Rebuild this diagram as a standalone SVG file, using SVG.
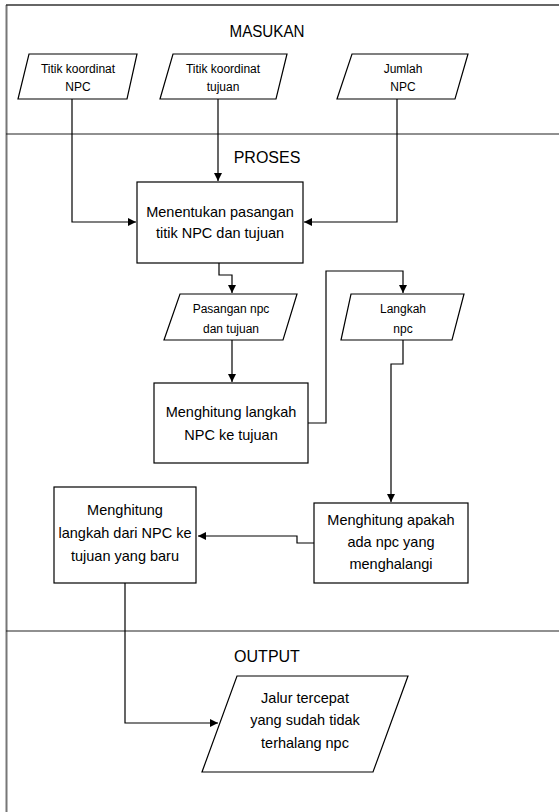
<svg xmlns="http://www.w3.org/2000/svg" width="559" height="812" viewBox="0 0 559 812">
<style>
text{font-family:"Liberation Sans","Open Sans",sans-serif;fill:#000;text-anchor:middle}
.t{font-size:12px}
.b{font-size:14.5px}
.h{font-size:16px}
.s{fill:#fff;stroke:#000;stroke-width:1.2}
.c{fill:none;stroke:#000;stroke-width:1.2;marker-end:url(#a)}
</style>
<defs>
<marker id="a" viewBox="0 0 10 10" refX="10" refY="5" markerWidth="8" markerHeight="8" markerUnits="userSpaceOnUse" orient="auto">
<path d="M0,0L10,5L0,10z" fill="#000"/>
</marker>
</defs>
<rect width="559" height="812" fill="#fff"/>
<g id="frame">
<line x1="6.5" y1="5" x2="6.5" y2="812" stroke="#777" stroke-width="2"/>
<line x1="6" y1="5" x2="559" y2="5" stroke="#333" stroke-width="1.5"/>
<line x1="6" y1="134" x2="559" y2="134" stroke="#222" stroke-width="1.2"/>
<line x1="6" y1="631" x2="559" y2="631" stroke="#222" stroke-width="1.2"/>
<text class="h" x="267" y="37" textLength="75" lengthAdjust="spacingAndGlyphs">MASUKAN</text>
<text class="h" x="267" y="163">PROSES</text>
<text class="h" x="267" y="662">OUTPUT</text>
</g>
<g id="connectors">
<polyline class="c" points="72,99 72,222 136,222"/>
<polyline class="c" points="218,99 218,181"/>
<polyline class="c" points="397,99 397,222 304,222"/>
<polyline class="c" points="219,263 219,275 232,275 232,293"/>
<polyline class="c" points="232,340 232,382"/>
<polyline class="c" points="308,423 326,423 326,271 403,271 403,293"/>
<polyline class="c" points="403,340 403,364 391,364 391,502"/>
<polyline class="c" points="314,543 297,543 297,536 198,536"/>
<polyline class="c" points="125,583 125,723 218,723"/>
</g>
<g id="in1">
<polygon class="s" points="29,54 137,54 127,99 18,99"/>
<text class="t" x="78" y="73">Titik koordinat</text>
<text class="t" x="78" y="91">NPC</text>
</g>
<g id="in2">
<polygon class="s" points="173,54 287,54 276,99 160,99"/>
<text class="t" x="223" y="73">Titik koordinat</text>
<text class="t" x="223" y="91">tujuan</text>
</g>
<g id="in3">
<polygon class="s" points="352,54 468,54 455,99 337,99"/>
<text class="t" x="403" y="73">Jumlah</text>
<text class="t" x="403" y="91">NPC</text>
</g>
<g id="p1">
<rect class="s" x="137" y="182" width="166" height="81"/>
<text class="b" x="220" y="217">Menentukan pasangan</text>
<text class="b" x="220" y="238">titik NPC dan tujuan</text>
</g>
<g id="d1">
<polygon class="s" points="180,294 297,294 283,340 164,340"/>
<text class="t" x="231" y="313">Pasangan npc</text>
<text class="t" x="231" y="333">dan tujuan</text>
</g>
<g id="p2">
<rect class="s" x="154" y="383" width="154" height="80"/>
<text class="b" x="231" y="417">Menghitung langkah</text>
<text class="b" x="231" y="440">NPC ke tujuan</text>
</g>
<g id="d2">
<polygon class="s" points="351,294 464,294 452,340 341,340"/>
<text class="t" x="403" y="313">Langkah</text>
<text class="t" x="403" y="333">npc</text>
</g>
<g id="p3">
<rect class="s" x="314" y="503" width="154" height="80"/>
<text class="b" x="391" y="525">Menghitung apakah</text>
<text class="b" x="391" y="547">ada npc yang</text>
<text class="b" x="391" y="569">menghalangi</text>
</g>
<g id="p4">
<rect class="s" x="54" y="487" width="142" height="96"/>
<text class="b" x="125" y="515">Menghitung</text>
<text class="b" x="125" y="538">langkah dari NPC ke</text>
<text class="b" x="125" y="561">tujuan yang baru</text>
</g>
<g id="out">
<polygon class="s" points="237,676 408,676 373,772 202,772"/>
<text class="b" x="305" y="703">Jalur tercepat</text>
<text class="b" x="305" y="725">yang sudah tidak</text>
<text class="b" x="305" y="748">terhalang npc</text>
</g>
</svg>
